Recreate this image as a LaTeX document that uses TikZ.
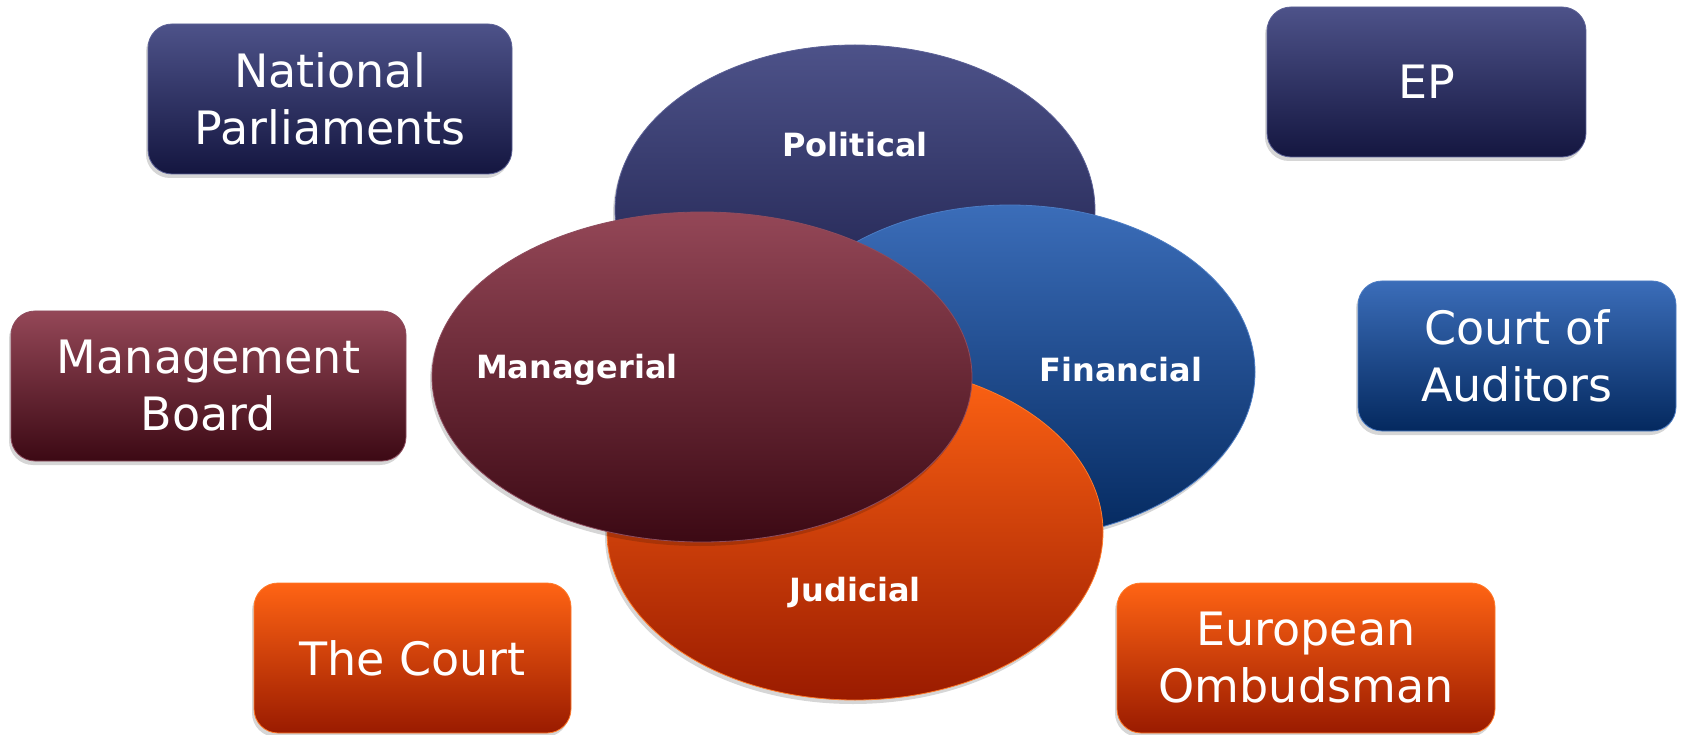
\documentclass[tikz,border=0pt]{standalone}
\usepackage{fontspec}
\setmainfont{DejaVu Sans}
\usetikzlibrary{shapes.geometric,shadows}
\definecolor{navyT}{HTML}{4D5289}
\definecolor{navyB}{HTML}{141640}
\definecolor{navyL}{HTML}{5C6196}
\definecolor{marT}{HTML}{944757}
\definecolor{marB}{HTML}{3C0914}
\definecolor{marL}{HTML}{8E4C5E}
\definecolor{bluT}{HTML}{3B6DB9}
\definecolor{bluB}{HTML}{04295F}
\definecolor{bluL}{HTML}{4C7CC4}
\definecolor{orT}{HTML}{FF6414}
\definecolor{orB}{HTML}{9A1B00}
\definecolor{orL}{HTML}{FF7A2A}
\begin{document}
\begin{tikzpicture}[x=1pt,y=-1pt,
  shad/.style={drop shadow={shadow xshift=-2pt,shadow yshift=-4pt,opacity=0.16,fill=black}},
  boxnode/.style={rounded corners=24pt, minimum height=150pt, inner sep=0pt,
    shading=axis, text=white, align=center, line width=0.8pt, shad,
    font=\fontsize{46}{57}\selectfont},
  navybox/.style={boxnode, top color=navyT, bottom color=navyB, draw=navyL},
  marbox/.style={boxnode, top color=marT, bottom color=marB, draw=marL},
  blubox/.style={boxnode, top color=bluT, bottom color=bluB, draw=bluL},
  orbox/.style={boxnode, top color=orT, bottom color=orB, draw=orL},
  ell/.style={ellipse, inner sep=0pt, shading=axis, line width=0.8pt, shad},
  elllabel/.style={text=white, font=\fontsize{32}{38}\selectfont\bfseries, inner sep=0pt}
]
\useasboundingbox (0,0) rectangle (1682,735);
\fill[white] (0,0) rectangle (1682,735);

% outer boxes
\node[navybox, minimum width=364pt] (np) at (330,99) {National\\Parliaments};
\node[navybox, minimum width=319pt] (ep) at (1426.5,82) {EP};
\node[marbox, minimum width=395pt] (mb) at (208.5,386) {Management\\Board};
\node[blubox, minimum width=318pt] (coa) at (1517,356) {Court of\\Auditors};
\node[orbox, minimum width=317pt] (tc) at (412.5,658) {The Court};
\node[orbox, minimum width=378pt] (eo) at (1306,658) {European\\Ombudsman};

% overlapping ellipses
\node[ell, minimum width=480pt, minimum height=330pt, top color=navyT, bottom color=navyB, draw=navyL] (pol) at (855,210) {};
\node[ell, minimum width=490pt, minimum height=334pt, top color=bluT, bottom color=bluB, draw=bluL] (fin) at (1010,372) {};
\node[ell, minimum width=496pt, minimum height=336pt, top color=orT, bottom color=orB, draw=orL] (jud) at (855,532) {};
\node[ell, minimum width=540pt, minimum height=330pt, top color=marT, bottom color=marB, draw=marL] (man) at (702,377) {};

% labels
\node[elllabel] (polL) at (855,145) {Political};
\node[elllabel] (finL) at (1121,370) {Financial};
\node[elllabel] (judL) at (855,593) {Judicial};
\node[elllabel] (manL) at (577,370) {Managerial};
\end{tikzpicture}
\end{document}
